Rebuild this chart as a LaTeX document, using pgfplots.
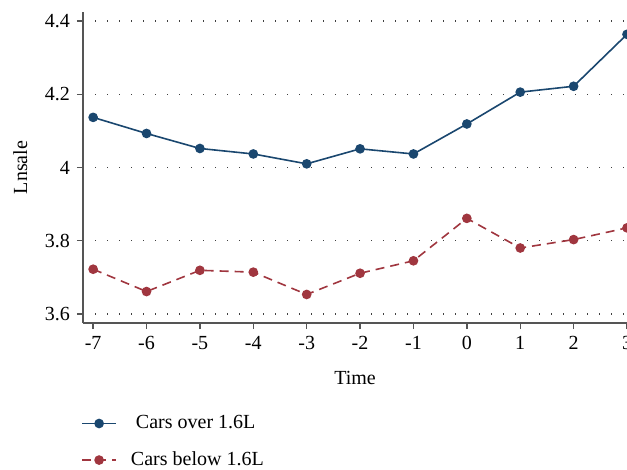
\documentclass[border=0pt]{standalone}
\usepackage{fontspec}
\setmainfont{Liberation Serif}
\usepackage{pgfplots}
\pgfplotsset{compat=1.18}
\definecolor{sblue}{HTML}{1A476F}
\definecolor{sred}{HTML}{A0363F}
\definecolor{axgray}{HTML}{555555}
\begin{document}
\begin{tikzpicture}
\begin{axis}[
  scale only axis,
  width=272pt, height=155.5pt,
  xmin=-7.19, xmax=3,
  ymin=3.575, ymax=4.425,
  axis lines*=left,
  axis line style={axgray, line width=0.9pt},
  every tick/.style={axgray, line width=0.7pt},
  tick align=outside,
  major tick length=3pt,
  xtick={-7,-6,-5,-4,-3,-2,-1,0,1,2,3},
  ytick={3.6,3.8,4,4.2,4.4},
  yticklabels={3.6,3.8,4,4.2,4.4},
  /pgf/number format/assume math mode=true,
  tick label style={font=\fontsize{10}{12}\selectfont},
  label style={font=\fontsize{10}{12}\selectfont},
  xlabel={Time},
  ylabel={Lnsale},
  ymajorgrids,
  major grid style={darkgray, line width=0.7pt, dash pattern=on 0.7pt off 5.3pt},
  xlabel style={yshift=-4pt},
  ylabel style={yshift=2pt},
  legend style={at={(axis description cs:-0.015,-0.27)}, anchor=north west, draw=none, fill=none,
    font=\fontsize{10}{12}\selectfont, row sep=6pt, cells={anchor=west}},
  legend cell align=left,
  clip=true,
]
\addplot[sblue, line width=0.8pt, mark=*, mark size=2pt, mark options={solid, fill=sblue}]
coordinates {(-7,4.137) (-6,4.093) (-5,4.052) (-4,4.037) (-3,4.010) (-2,4.051) (-1,4.037) (0,4.119) (1,4.206) (2,4.222) (3,4.364)};
\addlegendentry{\ \ \ Cars over 1.6L}
\addplot[sred, line width=0.8pt, dash pattern=on 4.5pt off 3pt, mark=*, mark size=2pt, mark options={solid, fill=sred}]
coordinates {(-7,3.722) (-6,3.661) (-5,3.719) (-4,3.714) (-3,3.653) (-2,3.711) (-1,3.745) (0,3.861) (1,3.780) (2,3.803) (3,3.835)};
\addlegendentry{\ \ Cars below 1.6L}
\end{axis}
\pgfresetboundingbox
\path[use as bounding box] ([xshift=-41.5pt,yshift=-73pt]current axis.south west) rectangle ([yshift=6pt]current axis.north east);
\end{tikzpicture}
\end{document}
